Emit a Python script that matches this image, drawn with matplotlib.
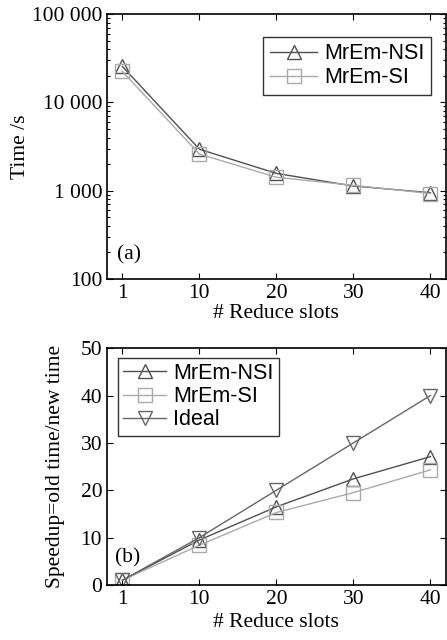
import matplotlib as mp
mp.use('agg')
import matplotlib.pyplot as plt
from matplotlib.ticker import FixedLocator, LogLocator, NullFormatter

# reduce slot counts (plotted as evenly spaced categories)
slots = ['1', '10', '20', '30', '40']

# run time in seconds
time_nsi = [25500, 2950, 1570, 1130, 950]
time_si = [22400, 2600, 1420, 1150, 930]

# speedup = old time / new time
speed_nsi = [1, 9.5, 16.5, 22.4, 27.1]
speed_si = [1, 8.4, 15.3, 19.5, 24.3]
speed_ideal = [1, 10, 20, 30, 40]

serif = ['Liberation Serif', 'DejaVu Serif']
sans = ['Liberation Sans', 'DejaVu Sans']

c_nsi = '#505050'
c_si = '#aaaaaa'
c_ideal = '#666666'
fs = 15.5


def style_axes(ax):
    ax.tick_params(which='both', direction='in', top=True, right=True,
                   labelsize=fs, width=0.8)
    ax.tick_params(which='major', length=4)
    ax.tick_params(which='minor', length=2)
    for lab in ax.get_xticklabels() + ax.get_yticklabels():
        lab.set_family(serif)
    for sp in ax.spines.values():
        sp.set_linewidth(1.2)


def main():
    plt.ioff()
    fig = plt.figure(figsize=(4.47, 6.4), dpi=100)
    x = list(range(len(slots)))

    # (a) time, log scale
    ax1 = fig.add_axes([0.2394, 0.564, 0.758, 0.414])
    ax1.plot(x, time_nsi, color=c_nsi, lw=1.0, marker='^', ms=10,
             mfc='none', mec=c_nsi, label='MrEm-NSI')
    ax1.plot(x, time_si, color=c_si, lw=1.0, marker='s', ms=10,
             mfc='none', mec=c_si, label='MrEm-SI')
    ax1.set_yscale('log')
    ax1.set_ylim(100, 100000)
    ax1.set_xlim(-0.2, 4.2)
    ax1.set_xticks(x)
    ax1.set_xticklabels(slots)
    ax1.set_yticks([100, 1000, 10000, 100000])
    ax1.set_yticklabels(['100', '1 000', '10 000', '100 000'])
    ax1.yaxis.set_minor_locator(LogLocator(base=10, subs=range(2, 10)))
    ax1.yaxis.set_minor_formatter(NullFormatter())
    ax1.set_xlabel('# Reduce slots', family=serif, fontsize=fs, labelpad=1)
    ax1.set_ylabel('Time /s', family=serif, fontsize=fs, labelpad=1)
    ax1.text(0.03, 0.09, '(a)', transform=ax1.transAxes, family=serif,
             fontsize=fs, va='center')
    leg = ax1.legend(loc='upper right', bbox_to_anchor=(0.955, 0.915),
                     prop={'family': sans, 'size': fs}, frameon=True,
                     fancybox=False, edgecolor='black', handlelength=2.2,
                     handletextpad=0.3, borderpad=0.3, labelspacing=0.15,
                     borderaxespad=0)
    leg.get_frame().set_linewidth(1.0)
    style_axes(ax1)

    # (b) speedup
    ax2 = fig.add_axes([0.2394, 0.086, 0.758, 0.370])
    ax2.plot(x, speed_nsi, color=c_nsi, lw=1.0, marker='^', ms=10,
             mfc='none', mec=c_nsi, label='MrEm-NSI')
    ax2.plot(x, speed_si, color=c_si, lw=1.0, marker='s', ms=10,
             mfc='none', mec=c_si, label='MrEm-SI')
    ax2.plot(x, speed_ideal, color=c_ideal, lw=1.0, marker='v', ms=10,
             mfc='none', mec=c_ideal, label='Ideal')
    ax2.set_ylim(0, 50)
    ax2.set_xlim(-0.2, 4.2)
    ax2.set_xticks(x)
    ax2.set_xticklabels(slots)
    ax2.yaxis.set_major_locator(FixedLocator([0, 10, 20, 30, 40, 50]))
    ax2.set_xlabel('# Reduce slots', family=serif, fontsize=fs, labelpad=3)
    ax2.set_ylabel('Speedup=old time/new time', family=serif, fontsize=fs,
                   labelpad=11)
    ax2.text(0.025, 0.115, '(b)', transform=ax2.transAxes, family=serif,
             fontsize=fs, va='center')
    leg2 = ax2.legend(loc='upper left', bbox_to_anchor=(0.032, 0.96),
                      prop={'family': sans, 'size': fs}, frameon=True,
                      fancybox=False, edgecolor='black', handlelength=2.0,
                      handletextpad=0.3, borderpad=0.25, labelspacing=0.1,
                      borderaxespad=0)
    leg2.get_frame().set_linewidth(1.0)
    style_axes(ax2)

    fig.savefig('out.png', dpi=100)


if __name__ == '__main__':
    main()
